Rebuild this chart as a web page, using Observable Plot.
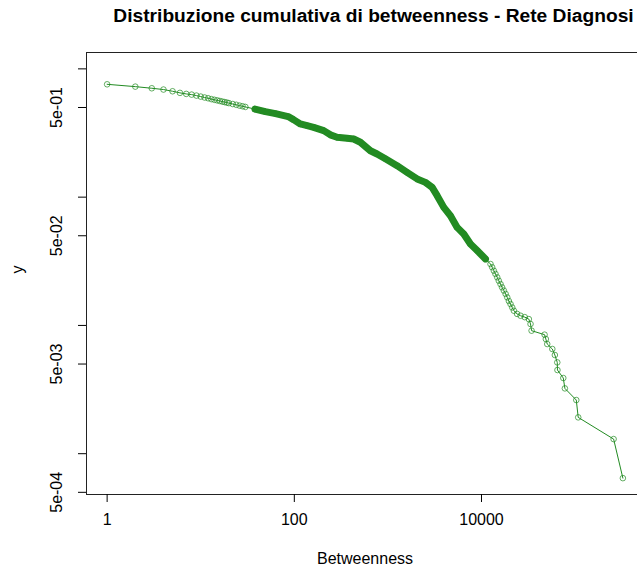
<!DOCTYPE html>
<html><head><meta charset="utf-8">
<script src="https://cdn.jsdelivr.net/npm/d3@7"></script>
<script src="https://cdn.jsdelivr.net/npm/@observablehq/plot@0.6"></script>
<style>
html,body{margin:0;padding:0;background:#fff;}
#wrap{position:relative;width:637px;height:566px;overflow:hidden;background:#fff;}
#title{position:absolute;left:0;top:6px;width:747px;text-align:center;font:bold 19.2px "Liberation Sans",Arial,sans-serif;line-height:20px;white-space:nowrap;color:#000;}
#chart{position:absolute;left:0;top:40px;width:660px;}
#chart svg{max-width:none !important;}
</style></head><body>
<div id="wrap"><div id="title"></div><div id="chart"></div></div>
<script>
// Betweenness values (x) and cumulative fraction P(X >= x) (y); x = 0 is dropped on the log axis
const betweenness = [0, 1, 2, 3, 4, 5, 6, 7, 8, 9, 10, 11, 12, 13, 14, 15, 16, 17, 18, 19, 20, 22, 24, 26, 28, 30,
  38, 49, 63, 86, 98, 116, 137, 161, 206, 243, 286, 366, 431, 508, 650, 766, 940, 1253, 1603, 2053, 2518, 2970,
  3360, 3954, 4660, 5495, 6465, 7620, 8990, 11030, 12480, 13000, 13550, 14100, 14730, 15300, 15970, 16600, 17330, 18100, 18840, 19600, 20420, 21300, 22180, 24000, 26140,
  29000, 32060, 33400, 34300, 47200, 48700, 50400, 57100, 60800, 64500, 64800, 74800, 77800, 103000, 108000, 258000, 324000];
const cumFraction = [1, 0.758, 0.727, 0.706, 0.690, 0.669, 0.650, 0.638, 0.630, 0.619, 0.608, 0.598, 0.590, 0.581, 0.574, 0.568, 0.562, 0.556, 0.551, 0.546, 0.541, 0.532, 0.525, 0.517, 0.511, 0.505,
  0.486, 0.464, 0.448, 0.425, 0.402, 0.372, 0.361, 0.350, 0.330, 0.306, 0.293, 0.288, 0.284, 0.268, 0.230, 0.217, 0.199, 0.176, 0.156, 0.1387, 0.1304, 0.1192,
  0.1027, 0.0832, 0.0717, 0.0581, 0.0516, 0.0431, 0.0383, 0.0330, 0.0301, 0.0284, 0.0267, 0.0252, 0.0237, 0.0223, 0.0210, 0.0198, 0.0187, 0.0176, 0.01654, 0.0155, 0.01468, 0.0138, 0.01302, 0.0123, 0.0119,
  0.0116, 0.0112, 0.01026, 0.0091, 0.00847, 0.00783, 0.00716, 0.00655, 0.00588, 0.00515, 0.00449, 0.00389, 0.00323, 0.00262, 0.00192, 0.0013, 0.000645];
const xTicks = [1, 100, 10000];
const yTicks = [5e-4, 1e-3, 5e-3, 1e-2, 5e-2, 1e-1, 5e-1, 1];
const yLabelValues = [5e-4, 5e-3, 5e-2, 5e-1];
const yTickLabels = ["5e-04", "5e-03", "5e-02", "5e-01"];
const titleText = "Distribuzione cumulativa di betweenness - Rete Diagnosi";
const xLabel = "Betweenness";
const yLabel = "y";

// where overlapping circles form a solid band (render approximation)
const bandExtent = [36, 12000];

document.getElementById("title").textContent = titleText;

const green = "#228B22";
const allPts = betweenness.map((b, i) => ({b, y: cumFraction[i]}));
const pts = allPts.filter(d => d.b > 0);
const band = pts.filter(d => d.b >= bandExtent[0] && d.b <= bandExtent[1]);
function logExt(vals) {
  const [a, b] = d3.extent(vals, v => Math.log10(v));
  const p = (b - a) * 0.04;
  return [10 ** (a - p), 10 ** (b + p)];
}
const xDomain = logExt(pts.map(d => d.b));
const yDomain = logExt(allPts.map(d => d.y));

const chart = Plot.plot({
  width: 660, height: 526,
  marginTop: 12, marginBottom: 72, marginLeft: 86, marginRight: 17,
  x: {type: "log", domain: xDomain},
  y: {type: "log", domain: yDomain},
  style: {fontFamily: "'Liberation Sans', Arial, sans-serif", fontSize: "16px", background: "white", color: "black", overflow: "visible", maxWidth: "none"},
  marks: [
    Plot.frame({stroke: "#222"}),
    Plot.axisX({ticks: xTicks, tickSize: 8, tickPadding: 11, tickFormat: d => String(d), label: null, fontSize: 16}),
    Plot.axisY({ticks: yTicks, tickSize: 8, tickFormat: () => "", label: null}),
    Plot.text(yLabelValues, {y: d => d, text: (d, i) => yTickLabels[i], frameAnchor: "left", dx: -29.5, rotate: -90, textAnchor: "middle", lineAnchor: "middle", fontSize: 16, fill: "black"}),
    Plot.text([xLabel], {text: d => d, frameAnchor: "bottom", dy: 58, lineAnchor: "top", fontSize: 16, fill: "black"}),
    Plot.text([yLabel], {text: d => d, frameAnchor: "left", dx: -68.6, rotate: -90, lineAnchor: "middle", fontSize: 16, fill: "black"}),
    Plot.line(pts, {x: "b", y: "y", stroke: green, strokeWidth: 1}),
    Plot.line(band, {x: "b", y: "y", stroke: green, strokeWidth: 7, strokeLinejoin: "round", strokeLinecap: "round"}),
    Plot.dot(pts, {x: "b", y: "y", r: 2.8, stroke: green, strokeWidth: 1, strokeOpacity: 0.7, fill: "none"})
  ]
});
document.getElementById("chart").appendChild(chart);
</script>
</body></html>
